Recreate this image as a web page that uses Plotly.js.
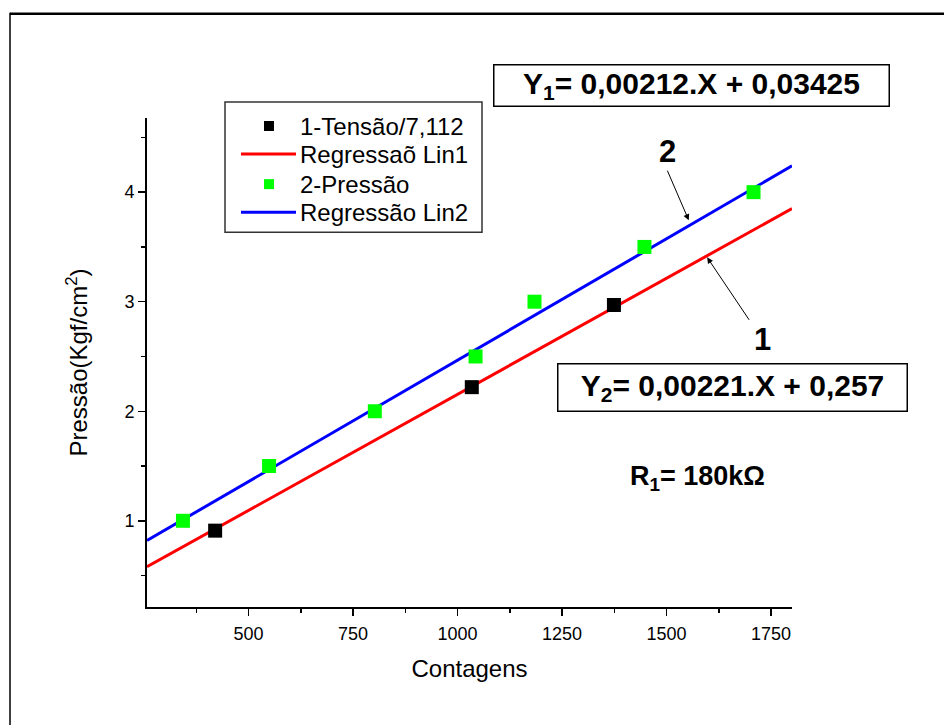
<!DOCTYPE html>
<html>
<head>
<meta charset="utf-8">
<script src="https://cdn.plot.ly/plotly-3.0.1.min.js"></script>
<style>html,body{margin:0;padding:0;background:#fff;}#chart{width:944px;height:725px;}</style>
</head>
<body>
<div id="chart"></div>
<script>
// Series 1: Tensão/7,112 (black squares)
const tensaoX = [420, 1034, 1374];
const tensaoY = [0.91, 2.22, 2.97];
// Series 2: Pressão (green squares)
const pressaoX = [343, 549, 802, 1043, 1184, 1447, 1708];
const pressaoY = [1.0, 1.5, 2.0, 2.5, 3.0, 3.5, 4.0];
// Regression line endpoints
const lin1X = [257, 1800];
const lin1Y = [0.58, 3.85];
const lin2X = [257, 1800];
const lin2Y = [0.82, 4.24];
const legendNames = ['1-Tensão/7,112', 'Regressaõ Lin1', '2-Pressão', 'Regressão Lin2'];
const seriesColors = ['#000000', '#ff0000', '#00ff00', '#0000ff'];

const F = 'Liberation Sans, Arial, Helvetica, sans-serif';

const tr1 = {x: tensaoX, y: tensaoY, mode: 'markers', type: 'scatter', name: legendNames[0],
   marker: {symbol: 'square', size: 14, color: seriesColors[0]}};
const trL1 = {x: lin1X, y: lin1Y, mode: 'lines', type: 'scatter', name: legendNames[1],
   line: {color: seriesColors[1], width: 3}};
const tr2 = {x: pressaoX, y: pressaoY, mode: 'markers', type: 'scatter', name: legendNames[2],
   marker: {symbol: 'square', size: 14, color: seriesColors[2]}};
const trL2 = {x: lin2X, y: lin2Y, mode: 'lines', type: 'scatter', name: legendNames[3],
   line: {color: seriesColors[3], width: 3}};
// draw order: lines under markers
const ordered = [trL1, trL2, tr1, tr2];

const px = p => (p - 147) / 645;
const py = p => (607 - p) / 488;

// Legend drawn by hand to match the reference box compactly
const legRows = [127, 155, 185, 213];
const legKinds = ['square', 'line', 'square', 'line'];
const legShapes = [
  {type: 'rect', xref: 'paper', yref: 'paper', x0: px(225), x1: px(482), y0: py(103), y1: py(233),
   line: {color: '#333333', width: 1.5}, fillcolor: '#ffffff', layer: 'above'}
];
const legAnn = [];
legRows.forEach((ry, i) => {
  if (legKinds[i] === 'line') {
    legShapes.push({type: 'line', xref: 'paper', yref: 'paper', x0: px(241), x1: px(296), y0: py(ry), y1: py(ry),
      line: {color: seriesColors[i], width: 3}, layer: 'above'});
  } else {
    legShapes.push({type: 'rect', xref: 'paper', yref: 'paper', x0: px(264), x1: px(274), y0: py(ry - 5), y1: py(ry + 5),
      line: {width: 0}, fillcolor: seriesColors[i], layer: 'above'});
  }
  legAnn.push({xref: 'paper', yref: 'paper', x: px(298), y: py(ry), xanchor: 'left', yanchor: 'middle',
    text: legendNames[i], showarrow: false, font: {family: F, size: 24, color: '#000000'}});
});

const layout = {
  width: 944, height: 725,
  margin: {l: 147, r: 152, t: 118, b: 118},
  paper_bgcolor: '#ffffff', plot_bgcolor: '#ffffff',
  font: {family: F, color: '#000000', size: 18},
  showlegend: false,
  xaxis: {
    range: [257, 1800], showgrid: false, zeroline: false,
    showline: true, linecolor: '#000000', linewidth: 2, mirror: false,
    ticks: 'outside', ticklen: 7, tickwidth: 1.5, tickcolor: '#000000',
    tick0: 0, dtick: 250, ticklabelstandoff: 2,
    tickfont: {family: F, size: 18, color: '#000000'},
    minor: {ticks: 'outside', dtick: 125, tick0: 0, ticklen: 4, tickwidth: 1.5, tickcolor: '#000000', showgrid: false},
    title: {text: 'Contagens', font: {family: F, size: 24, color: '#000000'}, standoff: 18}
  },
  yaxis: {
    range: [0.213, 4.677], showgrid: false, zeroline: false,
    showline: true, linecolor: '#000000', linewidth: 2, mirror: false,
    ticks: 'outside', ticklen: 7, tickwidth: 1.5, tickcolor: '#000000',
    tick0: 0, dtick: 1,
    tickfont: {family: F, size: 18, color: '#000000'},
    minor: {ticks: 'outside', dtick: 0.5, tick0: 0, ticklen: 4, tickwidth: 1.5, tickcolor: '#000000', showgrid: false},
    title: {text: 'Pressão(Kgf/cm<sup>2</sup>)', font: {family: F, size: 24, color: '#000000'}, standoff: 30}
  },
  shapes: [
    {type: 'line', xref: 'paper', yref: 'paper', x0: px(10), x1: px(944), y0: py(15), y1: py(15),
     line: {color: '#000000', width: 2.5}},
    {type: 'line', xref: 'paper', yref: 'paper', x0: px(10), x1: px(10), y0: py(14), y1: py(725),
     line: {color: '#000000', width: 1.5}}
  ].concat(legShapes),
  annotations: [
    {xref: 'paper', yref: 'paper', x: px(691), y: py(87), xanchor: 'center', yanchor: 'middle',
     text: '<b>Y<sub>1</sub>= 0,00212.X + 0,03425</b>', showarrow: false,
     font: {family: F, size: 30, color: '#000000'},
     bordercolor: '#000000', borderwidth: 1.5, bgcolor: '#ffffff', width: 392, height: 38},
    {xref: 'paper', yref: 'paper', x: px(732), y: py(388), xanchor: 'center', yanchor: 'middle',
     text: '<b>Y<sub>2</sub>= 0,00221.X + 0,257</b>', showarrow: false,
     font: {family: F, size: 30, color: '#000000'},
     bordercolor: '#000000', borderwidth: 1.5, bgcolor: '#ffffff', width: 346, height: 44},
    {xref: 'paper', yref: 'paper', x: px(697), y: py(478), xanchor: 'center', yanchor: 'middle',
     text: '<b>R<sub>1</sub>= 180kΩ</b>', showarrow: false,
     font: {family: F, size: 27, color: '#000000'}},
    {xref: 'paper', yref: 'paper', x: px(667), y: py(152), xanchor: 'center', yanchor: 'middle',
     text: '<b>2</b>', showarrow: false, font: {family: F, size: 31, color: '#000000'}},
    {xref: 'paper', yref: 'paper', x: px(762), y: py(340), xanchor: 'center', yanchor: 'middle',
     text: '<b>1</b>', showarrow: false, font: {family: F, size: 31, color: '#000000'}},
    {xref: 'x', yref: 'y', x: 1553, y: 3.744, ax: -22, ay: -51, text: '', showarrow: true,
     arrowhead: 2, arrowsize: 1.2, arrowwidth: 1, arrowcolor: '#000000'},
    {xref: 'x', yref: 'y', x: 1597, y: 3.405, ax: 43, ay: 64, text: '', showarrow: true,
     arrowhead: 2, arrowsize: 1.2, arrowwidth: 1, arrowcolor: '#000000'}
  ].concat(legAnn)
};

Plotly.newPlot('chart', ordered, layout, {displayModeBar: false, staticPlot: true});
</script>
</body>
</html>
